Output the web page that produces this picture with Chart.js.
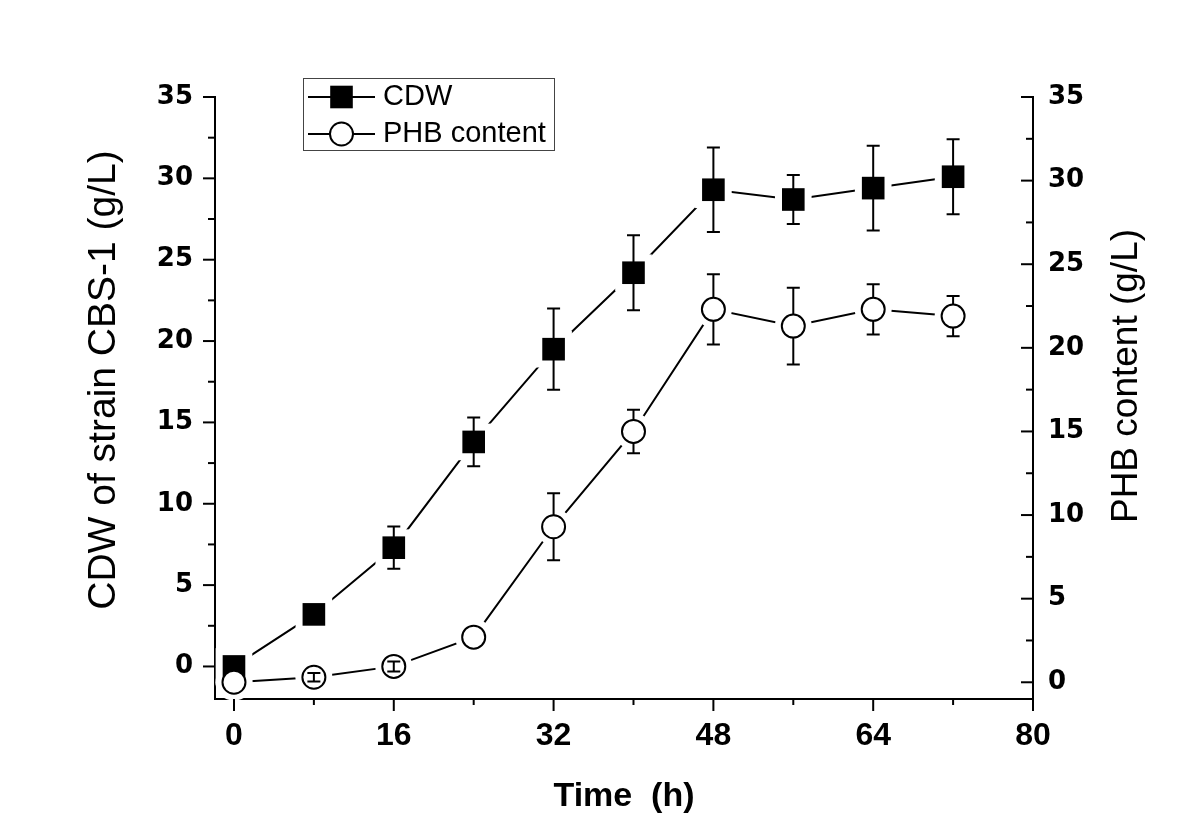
<!DOCTYPE html>
<html>
<head>
<meta charset="utf-8">
<title>CDW and PHB content</title>
<script src="https://cdn.jsdelivr.net/npm/chart.js@4.4.1/dist/chart.umd.min.js"></script>
<style>
    html, body { margin: 0; padding: 0; background: #fff; }
    canvas { display: block; }
</style>
</head>
<body>
<canvas id="myChart" width="1200" height="838"></canvas>
<script>
const timeHours = [0, 8, 16, 24, 32, 40, 48, 56, 64, 72];
const cdwValues = [0.0, 3.2, 7.3, 13.8, 19.5, 24.2, 29.3, 28.7, 29.4, 30.1];
const cdwErrors = [0, 0, 1.3, 1.5, 2.5, 2.3, 2.6, 1.5, 2.6, 2.3];
const phbValues = [0.0, 0.3, 0.95, 2.7, 9.3, 15.0, 22.3, 21.3, 22.3, 21.9];
const phbErrors = [0, 0.25, 0.3, 0, 2.0, 1.3, 2.1, 2.3, 1.5, 1.2];

const timeTicks = [0, 16, 32, 48, 64, 80];
const cdwTicks = [0, 5, 10, 15, 20, 25, 30, 35];
const phbTicks = [0, 5, 10, 15, 20, 25, 30, 35];

const SQUARE_R = 16;      // chart.js rect radius, side = r * sqrt(2)
const CIRCLE_R = 11.5;
const GAP = 7;            // white space left between line ends and markers

document.addEventListener('DOMContentLoaded', function () {
    const ctx = document.getElementById('myChart').getContext('2d');

    Chart.defaults.color = '#000';

    const cdwPoints = timeHours.map(function (t, i) { return { x: t, y: cdwValues[i] }; });
    const phbPoints = timeHours.map(function (t, i) { return { x: t, y: phbValues[i] }; });

    function fixedTicks(list) {
        return function (scale) {
            scale.ticks = list.map(function (v) { return { value: v }; });
        };
    }

    function drawErrorBars(chart, index, errors, axisId, insideOnly) {
        const c = chart.ctx;
        const scale = chart.scales[axisId];
        const meta = chart.getDatasetMeta(index);
        const data = chart.data.datasets[index].data;
        c.save();
        c.strokeStyle = '#000';
        c.lineWidth = 2;
        meta.data.forEach(function (pt, i) {
            if (!(errors[i] > 0)) return;
            const top = scale.getPixelForValue(data[i].y + errors[i]);
            const bottom = scale.getPixelForValue(data[i].y - errors[i]);
            const small = (bottom - top) / 2 < CIRCLE_R;
            if (insideOnly !== small) return;
            c.beginPath();
            c.moveTo(pt.x, top);
            c.lineTo(pt.x, bottom);
            c.moveTo(pt.x - 6.5, top);
            c.lineTo(pt.x + 6.5, top);
            c.moveTo(pt.x - 6.5, bottom);
            c.lineTo(pt.x + 6.5, bottom);
            c.stroke();
        });
        c.restore();
    }

    function drawAxisTicks(c, scale, values, along, from, dir, len) {
        values.forEach(function (v) {
            const p = scale.getPixelForValue(v);
            c.beginPath();
            if (along === 'x') {
                c.moveTo(p, from);
                c.lineTo(p, from + dir * len);
            } else {
                c.moveTo(from, p);
                c.lineTo(from + dir * len, p);
            }
            c.stroke();
        });
    }

    function midpoints(list) {
        const out = [];
        for (let i = 0; i < list.length - 1; i++) out.push((list[i] + list[i + 1]) / 2);
        return out;
    }

    function sideTitle(c, text, x, y, size) {
        c.save();
        c.fillStyle = '#000';
        c.font = size + 'px "Liberation Sans", Arial, sans-serif';
        c.textAlign = 'center';
        c.textBaseline = 'middle';
        c.translate(x, y);
        c.rotate(-Math.PI / 2);
        c.fillText(text, 0, 0);
        c.restore();
    }

    const originLook = {
        id: 'originLook',
        beforeDatasetDraw: function (chart, args) {
            if (args.index !== 2) return;
            const c = chart.ctx;
            const half = SQUARE_R * Math.SQRT1_2 + GAP;
            c.save();
            c.fillStyle = '#fff';
            chart.getDatasetMeta(2).data.forEach(function (pt) {
                c.fillRect(pt.x - half, pt.y - half, half * 2, half * 2);
            });
            chart.getDatasetMeta(3).data.forEach(function (pt) {
                c.beginPath();
                c.arc(pt.x, pt.y, CIRCLE_R + GAP, 0, Math.PI * 2);
                c.fill();
            });
            c.restore();
            drawErrorBars(chart, 2, cdwErrors, 'y', false);
            drawErrorBars(chart, 3, phbErrors, 'y2', false);
        },
        afterDatasetDraw: function (chart, args) {
            if (args.index !== 3) return;
            drawErrorBars(chart, 3, phbErrors, 'y2', true);
        },
        afterDraw: function (chart) {
            const c = chart.ctx;
            const area = chart.chartArea;
            const xs = chart.scales.x, ys = chart.scales.y, y2s = chart.scales.y2;

            c.save();
            c.strokeStyle = '#000';
            c.lineWidth = 2;
            drawAxisTicks(c, xs, timeTicks, 'x', area.bottom, 1, 12);
            drawAxisTicks(c, xs, midpoints(timeTicks), 'x', area.bottom, 1, 6);
            drawAxisTicks(c, ys, cdwTicks, 'y', area.left, -1, 12);
            drawAxisTicks(c, ys, midpoints(cdwTicks), 'y', area.left, -1, 7);
            drawAxisTicks(c, y2s, phbTicks, 'y', area.right, -1, 12);
            drawAxisTicks(c, y2s, midpoints(phbTicks), 'y', area.right, -1, 7);
            c.restore();

            // both side titles read upward
            sideTitle(c, 'CDW of strain CBS-1 (g/L)', 104, 380, 39);
            sideTitle(c, 'PHB content (g/L)', 1127, 376, 37);

            // legend box
            c.save();
            c.strokeStyle = '#444';
            c.lineWidth = 1;
            c.strokeRect(303.5, 78.5, 251, 72);
            c.strokeStyle = '#000';
            c.lineWidth = 2;
            [97, 134].forEach(function (y) {
                c.beginPath();
                c.moveTo(308, y);
                c.lineTo(375, y);
                c.stroke();
            });
            c.fillStyle = '#000';
            c.fillRect(341.5 - 11.3, 97 - 11.3, 22.6, 22.6);
            c.beginPath();
            c.arc(341.5, 134, CIRCLE_R, 0, Math.PI * 2);
            c.fillStyle = '#fff';
            c.fill();
            c.stroke();
            c.fillStyle = '#000';
            c.font = '29px "Liberation Sans", Arial, sans-serif';
            c.textAlign = 'left';
            c.textBaseline = 'middle';
            c.fillText(chart.data.datasets[0].label, 383, 97);
            c.fillText(chart.data.datasets[1].label, 383, 134);
            c.restore();
        }
    };

    const tickFontY = { family: 'DejaVu Sans', size: 26, weight: 'bold' };

    const myChart = new Chart(ctx, {
        type: 'line',
        data: {
            datasets: [{
                label: 'CDW',
                data: cdwPoints,
                yAxisID: 'y',
                borderColor: '#000',
                borderWidth: 2,
                pointRadius: 0,
                tension: 0,
                clip: false,
                order: 4
            }, {
                label: 'PHB content',
                data: phbPoints,
                yAxisID: 'y2',
                borderColor: '#000',
                borderWidth: 2,
                pointRadius: 0,
                tension: 0,
                clip: false,
                order: 3
            }, {
                label: 'CDW markers',
                data: cdwPoints,
                yAxisID: 'y',
                showLine: false,
                pointStyle: 'rect',
                pointRadius: SQUARE_R,
                pointBackgroundColor: '#000',
                pointBorderColor: '#000',
                pointBorderWidth: 0,
                clip: false,
                order: 2
            }, {
                label: 'PHB markers',
                data: phbPoints,
                yAxisID: 'y2',
                showLine: false,
                pointStyle: 'circle',
                pointRadius: CIRCLE_R,
                pointBackgroundColor: '#fff',
                pointBorderColor: '#000',
                pointBorderWidth: 2,
                clip: false,
                order: 1
            }]
        },
        options: {
            responsive: false,
            animation: false,
            events: [],
            layout: { padding: { top: 97, left: 0, right: 0, bottom: 0 } },
            plugins: {
                legend: { display: false },
                tooltip: { enabled: false }
            },
            scales: {
                x: {
                    type: 'linear',
                    position: 'bottom',
                    min: -1.9,
                    max: 80,
                    afterBuildTicks: fixedTicks(timeTicks),
                    afterFit: function (scale) { scale.height = 139; },
                    grid: { display: false, drawTicks: false },
                    border: { display: true, color: '#000', width: 2 },
                    ticks: {
                        autoSkip: false,
                        maxRotation: 0,
                        padding: 18,
                        font: { family: 'Liberation Sans', size: 32, weight: 'bold' }
                    },
                    title: {
                        display: true,
                        text: 'Time  (h)',
                        font: { family: 'Liberation Sans', size: 34, weight: 'bold' },
                        padding: { top: 0, bottom: 21 }
                    }
                },
                y: {
                    type: 'linear',
                    position: 'left',
                    min: -2,
                    max: 35,
                    afterBuildTicks: fixedTicks(cdwTicks),
                    afterFit: function (scale) { scale.width = 215; },
                    grid: { display: false, drawTicks: false },
                    border: { display: true, color: '#000', width: 2 },
                    ticks: { autoSkip: false, padding: 22, font: tickFontY }
                },
                y2: {
                    type: 'linear',
                    position: 'right',
                    min: -1,
                    max: 35,
                    afterBuildTicks: fixedTicks(phbTicks),
                    afterFit: function (scale) { scale.width = 167; },
                    grid: { display: false, drawTicks: false },
                    border: { display: true, color: '#000', width: 2 },
                    ticks: { autoSkip: false, padding: 15, font: tickFontY }
                }
            }
        },
        plugins: [originLook]
    });
});
</script>
</body>
</html>
